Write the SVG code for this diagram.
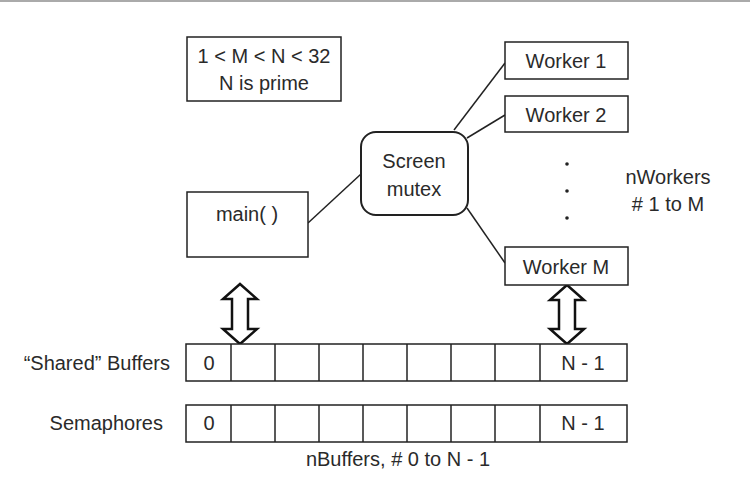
<svg xmlns="http://www.w3.org/2000/svg" width="750" height="500" viewBox="0 0 750 500">
<style>
.box{fill:#fff;stroke:#222;stroke-width:1.5}
.t{font-family:"Liberation Sans",Arial,sans-serif;font-size:20px;fill:#2a2a2a;text-anchor:middle}
.tr{font-family:"Liberation Sans",Arial,sans-serif;font-size:20px;fill:#2a2a2a;text-anchor:end}
.ln{stroke:#222;stroke-width:1.5;fill:none}
.cell{fill:#fff;stroke:#222;stroke-width:1.5}
.arr{fill:#fff;stroke:#111;stroke-width:2.5;stroke-linejoin:miter}
</style>
<rect x="0" y="0" width="750" height="500" fill="#fff"/>
<line x1="0" y1="1" x2="750" y2="1" stroke="#aaa" stroke-width="2"/>

<g id="connectors">
<line class="ln" x1="308" y1="223" x2="361" y2="174"/>
<line class="ln" x1="454" y1="130" x2="505" y2="63"/>
<line class="ln" x1="467" y1="138" x2="505" y2="115"/>
<line class="ln" x1="467" y1="208" x2="505" y2="263"/>
<path class="arr" d="M240,284 L257,299 L248,299 L248,329 L257,329 L240,344 L223,329 L232,329 L232,299 L223,299 Z"/>
<path class="arr" d="M567,285 L584,300 L575,300 L575,329 L584,329 L567,344 L550,329 L559,329 L559,300 L550,300 Z"/>
</g>

<g id="constraints">
<rect class="box" x="187" y="37" width="154" height="64"/>
<text class="t" x="264" y="63">1 &lt; M &lt; N &lt; 32</text>
<text class="t" x="264" y="90">N is prime</text>
</g>

<g id="main">
<rect class="box" x="187" y="192" width="121" height="65"/>
<text class="t" x="247" y="221">main( )</text>
</g>

<g id="mutex">
<rect class="box" x="361" y="132" width="107" height="83" rx="15" ry="15" style="stroke-width:2"/>
<text class="t" x="414" y="168">Screen</text>
<text class="t" x="414" y="196">mutex</text>
</g>

<g id="worker1">
<rect class="box" x="505" y="42" width="123" height="37"/>
<text class="t" x="566" y="68">Worker 1</text>
</g>
<g id="worker2">
<rect class="box" x="505" y="96" width="123" height="36"/>
<text class="t" x="566" y="122">Worker 2</text>
</g>
<g id="workerM">
<rect class="box" x="505" y="247" width="123" height="38"/>
<text class="t" x="566" y="274">Worker M</text>
</g>

<g id="dots" fill="#222">
<circle cx="567" cy="164" r="1.8"/>
<circle cx="567" cy="191" r="1.8"/>
<circle cx="567" cy="218" r="1.8"/>
</g>

<g id="nworkers-label">
<text class="t" x="668" y="184">nWorkers</text>
<text class="t" x="668" y="211"># 1 to M</text>
</g>

<g id="buffers">
<text class="tr" x="170" y="370">“Shared” Buffers</text>
<rect class="cell" x="186" y="344" width="441" height="37"/>
<line class="ln" x1="231" y1="344" x2="231" y2="381"/>
<line class="ln" x1="275" y1="344" x2="275" y2="381"/>
<line class="ln" x1="319" y1="344" x2="319" y2="381"/>
<line class="ln" x1="363" y1="344" x2="363" y2="381"/>
<line class="ln" x1="407" y1="344" x2="407" y2="381"/>
<line class="ln" x1="451" y1="344" x2="451" y2="381"/>
<line class="ln" x1="495" y1="344" x2="495" y2="381"/>
<line class="ln" x1="540" y1="344" x2="540" y2="381"/>
<text class="t" x="209" y="370">0</text>
<text class="t" x="583" y="370">N - 1</text>
</g>

<g id="semaphores">
<text class="tr" x="163" y="430">Semaphores</text>
<rect class="cell" x="186" y="405" width="441" height="37"/>
<line class="ln" x1="231" y1="405" x2="231" y2="442"/>
<line class="ln" x1="275" y1="405" x2="275" y2="442"/>
<line class="ln" x1="319" y1="405" x2="319" y2="442"/>
<line class="ln" x1="363" y1="405" x2="363" y2="442"/>
<line class="ln" x1="407" y1="405" x2="407" y2="442"/>
<line class="ln" x1="451" y1="405" x2="451" y2="442"/>
<line class="ln" x1="495" y1="405" x2="495" y2="442"/>
<line class="ln" x1="540" y1="405" x2="540" y2="442"/>
<text class="t" x="209" y="430">0</text>
<text class="t" x="583" y="430">N - 1</text>
</g>

<g id="nbuffers-label">
<text class="t" x="398" y="466">nBuffers, # 0 to N - 1</text>
</g>
</svg>
